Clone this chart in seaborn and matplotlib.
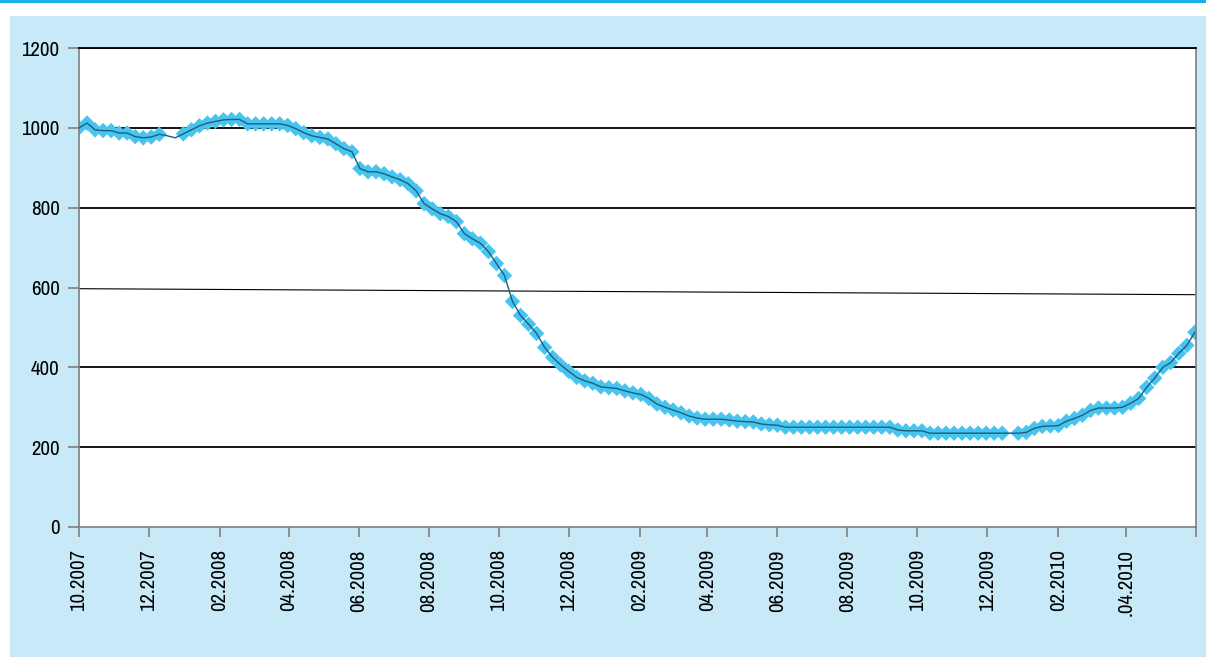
import matplotlib
matplotlib.use("Agg")
import matplotlib.pyplot as plt
from matplotlib.patches import Rectangle
import seaborn as sns
import pandas as pd

# ---- data -------------------------------------------------------------
start_date = "2007-10-01"          # first weekly observation
values = [
    1000, 1012, 995, 993, 993, 987, 987, 978, 975, 977,
    984, 980, 975, 985, 995, 1005, 1012, 1016, 1020, 1021,
    1021, 1010, 1010, 1010, 1010, 1010, 1006, 998, 988, 980,
    976, 972, 960, 948, 940, 898, 890, 890, 885, 877,
    870, 860, 842, 810, 797, 785, 778, 765, 735, 722,
    711, 690, 660, 630, 565, 530, 508, 485, 450, 425,
    406, 390, 375, 366, 360, 351, 349, 347, 341, 336,
    332, 322, 308, 300, 293, 286, 278, 273, 270, 270,
    270, 268, 265, 264, 263, 258, 256, 255, 250, 250,
    250, 250, 250, 250, 250, 250, 250, 250, 250, 250,
    250, 250, 243, 241, 241, 241, 235, 235, 235, 235,
    235, 235, 235, 235, 235, 235, 235, 235, 237, 247,
    252, 253, 254, 265, 272, 280, 292, 298, 298, 298,
    300, 310, 322, 350, 373, 400, 412, 435, 455, 488,
]
# holiday weeks drawn without a marker
no_marker_weeks = ["2007-12-17", "2007-12-24", "2009-12-21"]

tick_dates = ["2007-10-01", "2007-12-01", "2008-02-01", "2008-04-01",
              "2008-06-01", "2008-08-01", "2008-10-01", "2008-12-01",
              "2009-02-01", "2009-04-01", "2009-06-01", "2009-08-01",
              "2009-10-01", "2009-12-01", "2010-02-01", "2010-04-01"]
tick_labels = ["10.2007", "12.2007", "02.2008", "04.2008", "06.2008",
               "08.2008", "10.2008", "12.2008", "02.2009", "04.2009",
               "06.2009", "08.2009", "10.2009", "12.2009", "02.2010",
               ".04.2010"]
x_end = "2010-06-01"
y_ticks = [0, 200, 400, 600, 800, 1000, 1200]

# ---- frame ------------------------------------------------------------
dates = pd.date_range(start_date, periods=len(values), freq="7D")
df = pd.DataFrame({"date": dates, "value": values})
mk = df[~df["date"].isin(pd.to_datetime(no_marker_weeks))]

sns.set_theme(style="white")
plt.rcParams["font.family"] = ["Liberation Sans Narrow", "Archivo Narrow", "DejaVu Sans"]

W, H = 1206, 657
fig = plt.figure(figsize=(W / 100, H / 100), dpi=100, facecolor="white")

# light-blue panel and cyan top rule
fig.patches.append(Rectangle((10 / W, 0), 1 - 10 / W, (H - 16) / H,
                             transform=fig.transFigure, facecolor="#C7E9F8",
                             edgecolor="none", zorder=-5))
fig.patches.append(Rectangle((0, 1 - 3 / H), 1, 3 / H,
                             transform=fig.transFigure, facecolor="#12B3EA",
                             edgecolor="none", zorder=-5))

ax = fig.add_axes([79 / W, (H - 527) / H, (1196 - 79) / W, (527 - 48) / H])
ax.set_zorder(1)
ax.set_facecolor("white")

# gridlines
for yv in y_ticks[1:]:
    if yv == 600:
        continue
    ax.axhline(yv, color="black", lw=1.3, zorder=1)
# the 600 grid line in the original is slightly tilted
ax.plot([0, 1], [597, 582], transform=ax.get_yaxis_transform(),
        color="black", lw=0.8, zorder=1)

sns.scatterplot(data=mk, x="date", y="value", marker="D", s=62,
                color="#47C4F0", edgecolor="none", linewidth=0, ax=ax,
                zorder=2, legend=False)
sns.lineplot(data=df, x="date", y="value", color="#1D5F78", lw=1.0,
             ax=ax, zorder=3, legend=False)

ax.set_xlim(pd.Timestamp(start_date), pd.Timestamp(x_end))
ax.set_ylim(0, 1200)
ax.set_yticks(y_ticks)
ax.set_yticklabels([str(v) for v in y_ticks])
ax.set_xticks(list(pd.to_datetime(tick_dates)) + [pd.Timestamp(x_end)])
ax.set_xticklabels(tick_labels + [""], rotation=90, va="top", ha="center")
ax.set_xlabel("")
ax.set_ylabel("")

for s in ["left", "right", "bottom"]:
    ax.spines[s].set_color("#7F7F7F")
    ax.spines[s].set_linewidth(1.2)
ax.spines["top"].set_color("black")
ax.spines["top"].set_linewidth(1.3)

ax.tick_params(axis="both", which="major", direction="out", colors="#7F7F7F",
               labelcolor="black", labelsize=15, width=1.2)
ax.tick_params(axis="y", length=8, pad=6)
ax.tick_params(axis="x", length=7, pad=9)
ax.tick_params(bottom=True, left=True)

fig.savefig("out.png", dpi=100, facecolor="white")
